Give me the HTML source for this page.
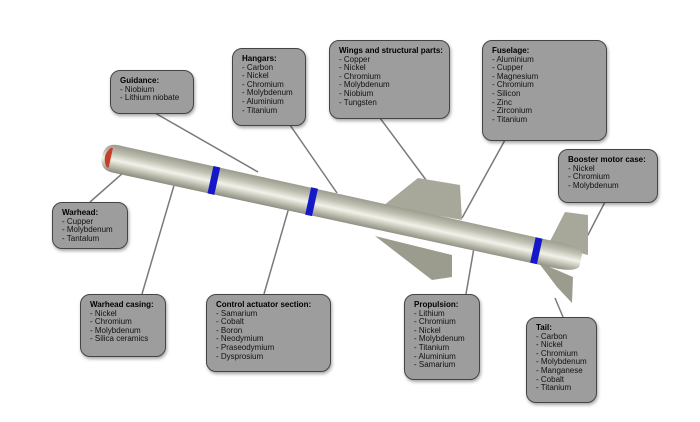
<!DOCTYPE html>
<html><head><meta charset="utf-8"><style>
html,body{margin:0;padding:0;background:#fff;}
#c{position:relative;width:700px;height:422px;overflow:hidden;font-family:"Liberation Sans",sans-serif;}
.b{position:absolute;box-sizing:border-box;background:#9d9d9d;border:1.5px solid #444;border-radius:10px;box-shadow:1px 2px 3px rgba(0,0,0,.35);padding:6px 0 0 9px;font-size:8px;line-height:8.6px;color:#111;white-space:nowrap;}
.b b{display:block;font-weight:bold;color:#000;}
svg{position:absolute;left:0;top:0;}
</style></head><body><div id="c">
<svg width="700" height="422" viewBox="0 0 700 422">
<defs>
<linearGradient id="g" x1="0" y1="0" x2="0" y2="1">
<stop offset="0" stop-color="#9a9a8c"/><stop offset=".3" stop-color="#c2c2b4"/><stop offset=".55" stop-color="#f2f2ea"/><stop offset=".8" stop-color="#b8b8aa"/><stop offset="1" stop-color="#8a8a7e"/>
</linearGradient>
</defs>
<g stroke="#7a7a7a" stroke-width="1.5">
<line x1="155" y1="113" x2="258" y2="172"/>
<line x1="290" y1="125" x2="337" y2="193"/>
<line x1="380" y1="118" x2="432" y2="188"/>
<line x1="505" y1="140" x2="462" y2="218"/>
<line x1="605" y1="202" x2="576" y2="258"/>
<line x1="90" y1="202" x2="132" y2="165"/>
<line x1="142" y1="294" x2="175" y2="182"/>
<line x1="264" y1="294" x2="292" y2="197"/>
<line x1="466" y1="294" x2="475" y2="242"/>
<line x1="563" y1="317" x2="555" y2="298"/>
</g>
<polygon points="383,206 418,178 460,185 462,220" fill="#a8a89a"/>
<polygon points="375,236 452,255 452,277 432,280" fill="#9c9c8e"/>
<polygon points="548,245 565,212 588,215 588,255" fill="#a8a89a"/>
<polygon points="538,262 573,277 572,303 557,287" fill="#9c9c8e"/>
<g transform="translate(102,156) rotate(12.3)">
<path d="M14,-14 L470,-13 Q488,-12 490,-6 L490,6 Q488,12 470,13 L14,14 Q0,14 0,0 Q0,-14 14,-14 Z" fill="url(#g)"/>
<path d="M7,-10 Q-1,0 7,10 L9,10 L9,-10 Z" fill="#c4402a"/>
<rect x="111" y="-14" width="7" height="28" fill="#1418c8"/>
<rect x="211" y="-14" width="7" height="28" fill="#1418c8"/>
<rect x="441" y="-13" width="7" height="26" fill="#1418c8"/>
</g>
</svg>
<div class="b" style="left:110px;top:70px;width:84px;height:44px"><b>Guidance:</b>- Niobium<br>- Lithium niobate</div>
<div class="b" style="left:232px;top:48px;width:74px;height:78px"><b>Hangars:</b>- Carbon<br>- Nickel<br>- Chromium<br>- Molybdenum<br>- Aluminium<br>- Titanium</div>
<div class="b" style="left:329px;top:40px;width:121px;height:79px"><b>Wings and structural parts:</b>- Copper<br>- Nickel<br>- Chromium<br>- Molybdenum<br>- Niobium<br>- Tungsten</div>
<div class="b" style="left:482px;top:40px;width:125px;height:101px"><b>Fuselage:</b>- Aluminium<br>- Cupper<br>- Magnesium<br>- Chromium<br>- Silicon<br>- Zinc<br>- Zirconium<br>- Titanium</div>
<div class="b" style="left:558px;top:149px;width:100px;height:54px"><b>Booster motor case:</b>- Nickel<br>- Chromium<br>- Molybdenum</div>
<div class="b" style="left:52px;top:202px;width:76px;height:47px"><b>Warhead:</b>- Cupper<br>- Molybdenum<br>- Tantalum</div>
<div class="b" style="left:80px;top:294px;width:86px;height:63px"><b>Warhead casing:</b>- Nickel<br>- Chromium<br>- Molybdenum<br>- Silica ceramics</div>
<div class="b" style="left:206px;top:294px;width:125px;height:78px"><b>Control actuator section:</b>- Samarium<br>- Cobalt<br>- Boron<br>- Neodymium<br>- Praseodymium<br>- Dysprosium</div>
<div class="b" style="left:404px;top:294px;width:76px;height:86px"><b>Propulsion:</b>- Lithium<br>- Chromium<br>- Nickel<br>- Molybdenum<br>- Titanium<br>- Aluminium<br>- Samarium</div>
<div class="b" style="left:526px;top:317px;width:71px;height:86px"><b>Tail:</b>- Carbon<br>- Nickel<br>- Chromium<br>- Molybdenum<br>- Manganese<br>- Cobalt<br>- Titanium</div>
</div></body></html>
